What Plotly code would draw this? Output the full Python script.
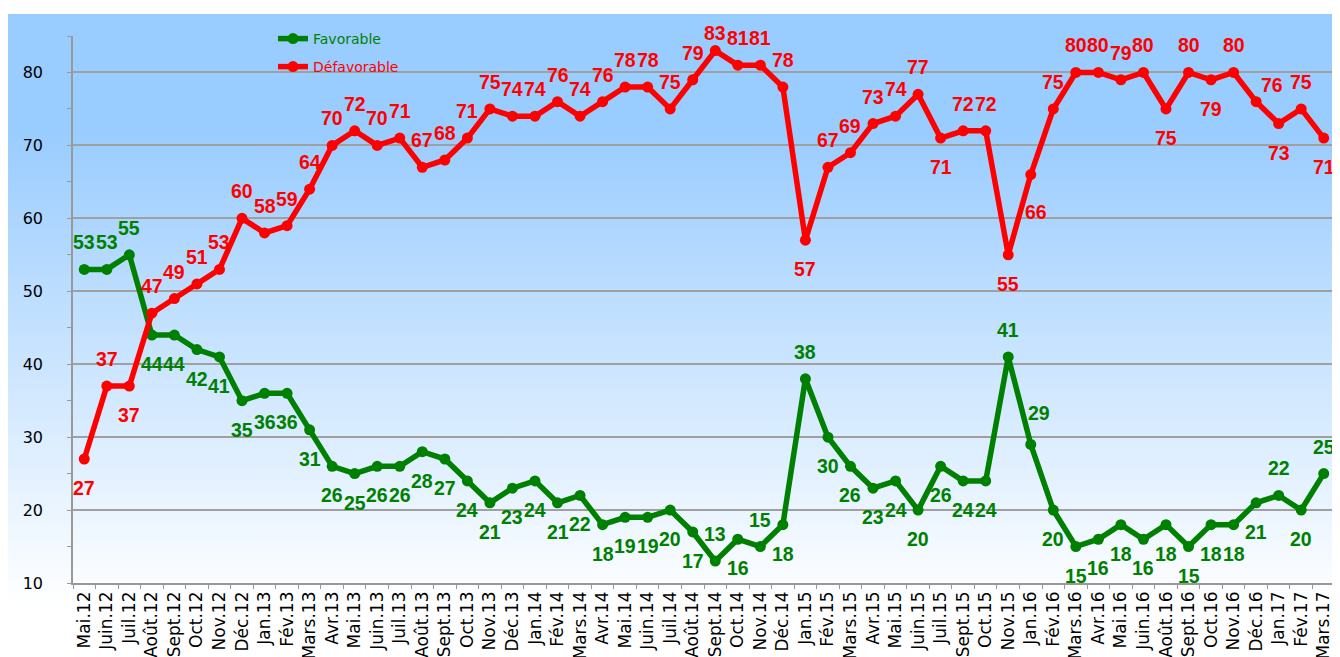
import base64
import plotly.graph_objects as go

months = ["Mai.12", "Juin.12", "Juil.12", "Août.12", "Sept.12", "Oct.12", "Nov.12", "Déc.12",
          "Jan.13", "Fév.13", "Mars.13", "Avr.13", "Mai.13", "Juin.13", "Juil.13", "Août.13",
          "Sept.13", "Oct.13", "Nov.13", "Déc.13", "Jan.14", "Fév.14", "Mars.14", "Avr.14",
          "Mai.14", "Juin.14", "Juil.14", "Août.14", "Sept.14", "Oct.14", "Nov.14", "Déc.14",
          "Jan.15", "Fév.15", "Mars.15", "Avr.15", "Mai.15", "Juin.15", "Juil.15", "Sept.15",
          "Oct.15", "Nov.15", "Jan.16", "Fév.16", "Mars.16", "Avr.16", "Mai.16", "Juin.16",
          "Août.16", "Sept.16", "Oct.16", "Nov.16", "Déc.16", "Jan.17", "Fév.17", "Mars.17"]

favorable = [53, 53, 55, 44, 44, 42, 41, 35, 36, 36, 31, 26, 25, 26, 26, 28, 27, 24, 21, 23,
             24, 21, 22, 18, 19, 19, 20, 17, 13, 16, 15, 18, 38, 30, 26, 23, 24, 20, 26, 24,
             24, 41, 29, 20, 15, 16, 18, 16, 18, 15, 18, 18, 21, 22, 20, 25]

defavorable = [27, 37, 37, 47, 49, 51, 53, 60, 58, 59, 64, 70, 72, 70, 71, 67, 68, 71, 75, 74,
               74, 76, 74, 76, 78, 78, 75, 79, 83, 81, 81, 78, 57, 67, 69, 73, 74, 77, 71, 72,
               72, 55, 66, 75, 80, 80, 79, 80, 75, 80, 79, 80, 76, 73, 75, 71]

y_ticks = [10, 20, 30, 40, 50, 60, 70, 80]
y_minor = [15, 25, 35, 45, 55, 65, 75, 85]

# label placement codes (style)
fav_pos = (["t"] * 3 + ["b"] * 25 + ["t", "b", "t", "b", "t"] + ["b"] * 8 + ["t", "tr2"]
           + ["b"] * 10 + ["t", "b", "t"])
defav_pos = (["b", "t", "b"] + ["t"] * 25 + ["t2"] + ["t"] * 3 + ["b"] + ["t"] * 5 + ["b", "t", "t", "b", "b2"]
             + ["t"] * 5 + ["b", "t", "b", "t", "tr", "b", "t", "b"])

offsets = {"t": (0, -27), "b": (0, 29), "t2": (0, -18), "b2": (5, 37),
           "tr": (16, -17), "tr2": (8, -31)}

GREEN = "#008000"
RED = "#FF0000"
AXC = "#999999"

fig = go.Figure()
fig.add_trace(go.Scatter(x=months, y=favorable, mode="lines+markers", name="Favorable",
                         line=dict(color=GREEN, width=5.5), marker=dict(size=11, color=GREEN),
                         legend="legend", cliponaxis=False))
fig.add_trace(go.Scatter(x=months, y=defavorable, mode="lines+markers", name="Défavorable",
                         line=dict(color=RED, width=5.5), marker=dict(size=11, color=RED),
                         legend="legend2", cliponaxis=False))

annotations = []
for vals, pos, col in ((favorable, fav_pos, GREEN), (defavorable, defav_pos, RED)):
    for m, v, p in zip(months, vals, pos):
        dx, dy = offsets[p]
        annotations.append(dict(x=m, y=v, text=str(v), showarrow=False, xshift=dx, yshift=-dy,
                                font=dict(family="Liberation Sans, Arial", size=19.5, color=col,
                                          weight="bold")))

svg = ('<svg xmlns="http://www.w3.org/2000/svg" width="100" height="100" viewBox="0 0 100 100" '
       'preserveAspectRatio="none"><defs><linearGradient id="g" x1="0" y1="0" x2="0" y2="1">'
       '<stop offset="0.18" stop-color="#99CCFF"/><stop offset="0.92" stop-color="#FFFFFF"/>'
       '</linearGradient></defs><rect width="100" height="100" fill="url(#g)"/></svg>')
src = "data:image/svg+xml;base64," + base64.b64encode(svg.encode()).decode()

# the page adds an 8px body margin, so figure coords = page coords - 8
W, H = 1332, 649
L, R, T, B = 65, 1327, 28, 575
pw, ph = R - L, B - T


def px(xp):
    return (xp - L) / pw


def py(yp):
    return (B - yp) / ph


fig.update_layout(
    width=W, height=H,
    margin=dict(l=L, r=W - R, t=T, b=H - B, pad=0),
    paper_bgcolor="white",
    plot_bgcolor="rgba(0,0,0,0)",
    showlegend=True,
    images=[dict(source=src, xref="paper", yref="paper", x=px(0), y=py(6),
                 sizex=W / pw, sizey=(H - 6) / ph, sizing="stretch",
                 xanchor="left", yanchor="top", layer="below")],
    annotations=annotations,
    font=dict(family="DejaVu Sans", size=16, color="black"),
    legend=dict(x=px(265), y=py(31), xanchor="left", yanchor="middle",
                bgcolor="rgba(0,0,0,0)", font=dict(family="DejaVu Sans", size=14, color=GREEN)),
    legend2=dict(x=px(265), y=py(59), xanchor="left", yanchor="middle",
                 bgcolor="rgba(0,0,0,0)", font=dict(family="DejaVu Sans", size=14, color=RED)),
    xaxis=dict(type="category", range=[-0.5, len(months) - 0.5], tickangle=-90,
               showline=True, linecolor=AXC, linewidth=1.5, ticks="outside",
               tickson="boundaries", ticklen=18, tickcolor="rgba(0,0,0,0)", showgrid=False,
               automargin=False,
               tickfont=dict(family="DejaVu Sans", size=17, color="black")),
    xaxis2=dict(type="category", overlaying="x", matches="x", side="bottom",
                showticklabels=False, ticks="outside", tickson="boundaries", ticklen=5,
                tickcolor=AXC, showgrid=False, showline=False, automargin=False),
    yaxis=dict(range=[10, 85], tickvals=y_ticks,
               showline=True, linecolor=AXC, linewidth=1.5, ticks="outside",
               ticklen=25, tickcolor="rgba(0,0,0,0)", showgrid=True, gridcolor="#A0A0A0",
               gridwidth=1.5, zeroline=False, automargin=False,
               tickfont=dict(family="DejaVu Sans", size=16, color="black")),
    yaxis2=dict(range=[10, 85], overlaying="y", matches="y", side="left",
                tickvals=y_ticks + y_minor, showticklabels=False, ticks="outside",
                ticklen=5, tickcolor=AXC, showgrid=False, showline=False, zeroline=False,
                automargin=False),
)

# invisible helper trace so the overlay axes used for tick marks are drawn
fig.add_trace(go.Scatter(x=[months[0]], y=[None], xaxis="x2", yaxis="y2", showlegend=False,
                         hoverinfo="skip", mode="markers"))

fig.write_html("out.html")
